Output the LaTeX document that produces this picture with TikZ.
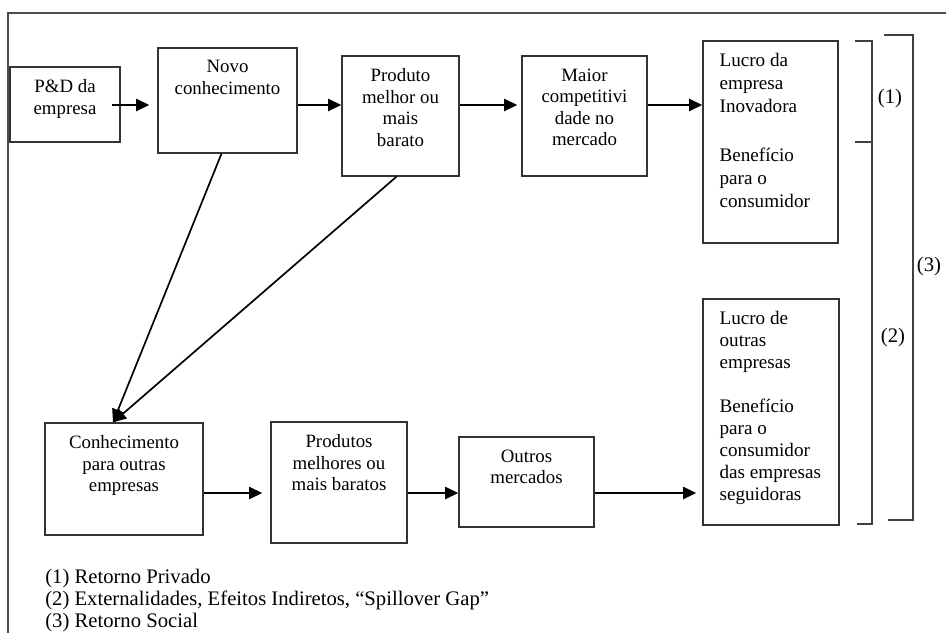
\documentclass[tikz,border=0pt]{standalone}
\usepackage{fontspec}
\setmainfont{Liberation Serif}
\usepackage{tikz}
\usetikzlibrary{arrows.meta, calc}
\tikzstyle{block} = [rectangle, draw=black!80, line width=0.9pt, inner sep=0pt]
\tikzstyle{txt} = [anchor=north, align=center, inner sep=0pt, font=\fontsize{13.4}{15.3}\selectfont]
\tikzstyle{ltxt} = [anchor=north west, align=left, inner sep=0pt, font=\fontsize{13.6}{15.6}\selectfont]
\tikzstyle{note} = [inner sep=0pt, font=\fontsize{14.7}{16}\selectfont]
\tikzstyle{arrow} = [line width=1.5pt, -{Triangle[length=3.3mm, width=3mm]}]

\begin{document}
\begin{tikzpicture}[x=0.025cm, y=-0.025cm]
  \useasboundingbox (0,0) rectangle (946,633);
  \draw[black!70, line width=0.8pt] (946,13) -| (8,633);
  \coordinate (row1) at (0,105);
  \coordinate (row2) at (0,493);

  % firma inovadora
  \node[block, minimum width=2.75cm, minimum height=1.875cm] (pd) at (65,104.5) {};
  \node[txt] (pd-t) at ($(pd.north)+(0,13)$) {P\&D da\\empresa};
  \node[block, minimum width=3.475cm, minimum height=2.625cm] (novo) at (227.5,100.5) {};
  \node[txt] (novo-t) at ($(novo.north)+(0,13)$) {Novo\\conhecimento};
  \node[block, minimum width=2.925cm, minimum height=3cm] (prod) at (400.5,116) {};
  \node[txt] (prod-t) at ($(prod.north)+(0,13)$) {Produto\\melhor ou\\mais\\barato};
  \node[block, minimum width=3.125cm, minimum height=3cm] (maior) at (584.5,116) {};
  \node[txt] (maior-t) at ($(maior.north)+(0,13)$) {Maior\\competitivi\\dade no\\mercado};
  \node[block, minimum width=3.375cm, minimum height=5.05cm] (lucro) at (770.5,142) {};
  \node[ltxt, font=\fontsize{13.6}{16.2}\selectfont] (lucro-t) at ($(lucro.north west)+(17,13)$) {Lucro da\\empresa\\Inovadora\\[19pt]Benefício\\para o\\consumidor};

  % outras empresas
  \node[block, minimum width=3.95cm, minimum height=2.8cm] (conh) at (124,479) {};
  \node[txt] (conh-t) at ($(conh.north)+(0,13)$) {Conhecimento\\para outras\\empresas};
  \node[block, minimum width=3.4cm, minimum height=3.025cm] (prods) at (339,482.5) {};
  \node[txt] (prods-t) at ($(prods.north)+(0,13)$) {Produtos\\melhores ou\\mais baratos};
  \node[block, minimum width=3.375cm, minimum height=2.25cm] (outros) at (526.5,482) {};
  \node[txt] (outros-t) at ($(outros.north)+(0,13)$) {Outros\\mercados};
  \node[block, minimum width=3.4cm, minimum height=5.65cm] (lucro2) at (771,412) {};
  \node[ltxt] (lucro2-t) at ($(lucro2.north west)+(17,13)$) {Lucro de\\outras\\empresas\\[15.6pt]Benefício\\para o\\consumidor\\das empresas\\seguidoras};

  \draw[arrow, shorten <=-9*0.025cm, shorten >=8*0.025cm] (pd.east |- row1) -- (novo.west |- row1);
  \draw[arrow] (novo.east |- row1) -- (prod.west |- row1);
  \draw[arrow, shorten >=4*0.025cm] (prod.east |- row1) -- (maior.west |- row1);
  \draw[arrow] (maior.east |- row1) -- (lucro.west |- row1);

  \coordinate (spill) at ($(conh.north)+(-11,0)$);
  \draw[arrow, line width=1.2pt] ($(novo.south)+(-6,0)$) -- (spill);
  \draw[arrow, line width=1.2pt] ($(prod.south)+(-4,0)$) -- (spill);

  \draw[arrow, shorten >=8*0.025cm] (conh.east |- row2) -- (prods.west |- row2);
  \draw[arrow] (prods.east |- row2) -- (outros.west |- row2);
  \draw[arrow, shorten >=6*0.025cm] (outros.east |- row2) -- (lucro2.west |- row2);

  % chaves
  \draw[black!75, line width=0.9pt] (855,41) -| (872,524) -- (857,524);
  \draw[black!75, line width=0.9pt] (855,142) -- (872,142);
  \draw[black!75, line width=0.9pt] (884,35) -| (913,520) -- (888,520);
  \node[note] (r1) at (890,99) {(1)};
  \node[note] (r2) at (893,338) {(2)};
  \node[note] (r3) at (929,267) {(3)};

  \node[note, anchor=base west] (leg1) at (45,583) {(1) Retorno Privado};
  \node[note, anchor=base west] (leg2) at (45,605) {(2) Externalidades, Efeitos Indiretos, “Spillover Gap”};
  \node[note, anchor=base west] (leg3) at (45,627) {(3) Retorno Social};
\end{tikzpicture}
\end{document}
